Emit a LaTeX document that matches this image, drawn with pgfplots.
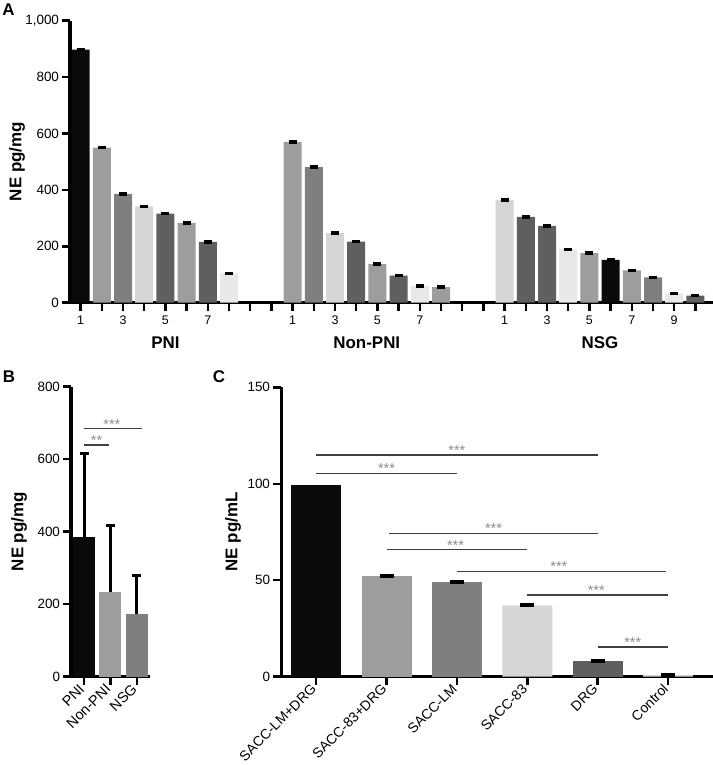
\documentclass[border=0pt]{standalone}
\usepackage{fontspec}
\setmainfont{Liberation Sans}
\usepackage{pgfplots}
\pgfplotsset{compat=1.18}
\definecolor{cK}{HTML}{0A0A0A}
\definecolor{cA}{HTML}{9D9DA0}
\definecolor{cB}{HTML}{7F7F7F}
\definecolor{cC}{HTML}{D6D6D6}
\definecolor{cD}{HTML}{5F5F5F}
\definecolor{cE}{HTML}{E8E8E8}
\definecolor{sig}{HTML}{404040}
\definecolor{sigtxt}{HTML}{8C8C8C}
\pgfplotsset{
 panel/.style={
  scale only axis, clip=false,
  axis x line*=bottom, axis y line*=left,
  axis line style={-, line width=3bp, black},
  tick style={line width=2.5bp, black},
  major tick length=7.5bp, tick align=outside,
  /pgf/number format/assume math mode=true,
  /pgf/number format/1000 sep={,},
  tick label style={font=\fontsize{13.5}{16}\selectfont},
  ylabel style={font=\bfseries\fontsize{17}{19}\selectfont},
 },
 bars/.style={ybar, draw=none, fill=#1},
 capsA/.style={only marks, mark=-, mark size=4bp, mark options={line width=3.5bp, black}},
 capsC/.style={only marks, mark=-, mark size=7bp, mark options={line width=4bp, black}},
}
\tikzset{
 sigline/.style={draw=sig, line width=1.4bp},
 sigtext/.style={text=sigtxt, font=\fontsize{14.5}{15}\selectfont, anchor=base, yshift=-0.5bp},
 tickline/.style={line width=2.5bp, draw=black},
}
\begin{document}
\begin{tikzpicture}
\useasboundingbox (0,0) rectangle (713bp,765bp);
\node[font=\bfseries\fontsize{17}{19}\selectfont] at (8.5bp,755bp) {A};
\node[font=\bfseries\fontsize{17}{19}\selectfont] at (9bp,388bp) {B};
\node[font=\bfseries\fontsize{17}{19}\selectfont] at (219bp,388bp) {C};
% ---------------- Panel A
\begin{axis}[panel, at={(70bp,462.3bp)}, anchor=south west,
  width=643bp, height=282bp,
  xmin=-0.5, xmax=29.83, ymin=0, ymax=1000,
  xtick={0,...,29},
  xticklabels={1,,3,,5,,7,,,,1,,3,,5,,7,,,,1,,3,,5,,7,,9,},
  x tick label style={font=\fontsize{12.5}{15}\selectfont, yshift=-2bp},
  ytick={0,200,400,600,800,1000},
  ylabel={NE pg/mg},
  ylabel style={at={(axis description cs:-0.0824,0.5)}, anchor=center},
  bar width=18bp]
\addplot[bars=cK] coordinates {(0,897) (25,152)};
\addplot[bars=cA] coordinates {(1,550) (5,283) (10,570) (14,137) (17,55) (24,176) (26,115)};
\addplot[bars=cB] coordinates {(2,386) (11,481) (27,90)};
\addplot[bars=cC] coordinates {(3,342) (12,247) (20,365)};
\addplot[bars=cD] coordinates {(4,316) (6,216) (13,217) (15,96) (21,304) (22,272) (29,25)};
\addplot[bars=cE] coordinates {(7,104) (16,60) (23,189) (28,33)};
\addplot[capsA] coordinates {(0,897) (1,550) (2,386) (3,342) (4,316) (5,283) (6,216) (7,104)
 (10,570) (11,481) (12,247) (13,217) (14,137) (15,96) (16,60) (17,55)
 (20,365) (21,304) (22,272) (23,189) (24,176) (25,152) (26,115) (27,90) (28,33) (29,25)};
\draw[tickline] (axis cs:0,0) -- (axis cs:0,-28);
\draw[tickline] (axis cs:1,0) -- (axis cs:1,-28);
\draw[tickline] (axis cs:2,0) -- (axis cs:2,-28);
\draw[tickline] (axis cs:3,0) -- (axis cs:3,-28);
\draw[tickline] (axis cs:4,0) -- (axis cs:4,-28);
\draw[tickline] (axis cs:5,0) -- (axis cs:5,-28);
\draw[tickline] (axis cs:6,0) -- (axis cs:6,-28);
\draw[tickline] (axis cs:7,0) -- (axis cs:7,-28);
\draw[tickline] (axis cs:8,0) -- (axis cs:8,-28);
\draw[tickline] (axis cs:9,0) -- (axis cs:9,-28);
\draw[tickline] (axis cs:10,0) -- (axis cs:10,-28);
\draw[tickline] (axis cs:11,0) -- (axis cs:11,-28);
\draw[tickline] (axis cs:12,0) -- (axis cs:12,-28);
\draw[tickline] (axis cs:13,0) -- (axis cs:13,-28);
\draw[tickline] (axis cs:14,0) -- (axis cs:14,-28);
\draw[tickline] (axis cs:15,0) -- (axis cs:15,-28);
\draw[tickline] (axis cs:16,0) -- (axis cs:16,-28);
\draw[tickline] (axis cs:17,0) -- (axis cs:17,-28);
\draw[tickline] (axis cs:18,0) -- (axis cs:18,-28);
\draw[tickline] (axis cs:19,0) -- (axis cs:19,-28);
\draw[tickline] (axis cs:20,0) -- (axis cs:20,-28);
\draw[tickline] (axis cs:21,0) -- (axis cs:21,-28);
\draw[tickline] (axis cs:22,0) -- (axis cs:22,-28);
\draw[tickline] (axis cs:23,0) -- (axis cs:23,-28);
\draw[tickline] (axis cs:24,0) -- (axis cs:24,-28);
\draw[tickline] (axis cs:25,0) -- (axis cs:25,-28);
\draw[tickline] (axis cs:26,0) -- (axis cs:26,-28);
\draw[tickline] (axis cs:27,0) -- (axis cs:27,-28);
\draw[tickline] (axis cs:28,0) -- (axis cs:28,-28);
\draw[tickline] (axis cs:29,0) -- (axis cs:29,-28);
\draw[tickline] (axis cs:-0.5,0) -- (axis cs:-0.877,0);
\draw[tickline] (axis cs:-0.5,200) -- (axis cs:-0.877,200);
\draw[tickline] (axis cs:-0.5,400) -- (axis cs:-0.877,400);
\draw[tickline] (axis cs:-0.5,600) -- (axis cs:-0.877,600);
\draw[tickline] (axis cs:-0.5,800) -- (axis cs:-0.877,800);
\draw[tickline] (axis cs:-0.5,1000) -- (axis cs:-0.877,1000);
\node[font=\bfseries\fontsize{17}{19}\selectfont, yshift=-40bp] at (axis cs:4,0) {PNI};
\node[font=\bfseries\fontsize{17}{19}\selectfont, yshift=-40bp] at (axis cs:13.5,0) {Non-PNI};
\node[font=\bfseries\fontsize{17}{19}\selectfont, yshift=-40bp] at (axis cs:24.5,0) {NSG};
\end{axis}
% ---------------- Panel B
\begin{axis}[panel, at={(71bp,88.3bp)}, anchor=south west,
  width=79bp, height=290bp,
  xmin=-0.5, xmax=2.5, ymin=0, ymax=800,
  xtick={0,1,2}, xticklabels={PNI,Non-PNI,NSG},
  xticklabel style={rotate=45, anchor=east, font=\fontsize{14.5}{16}\selectfont},
  ytick={0,200,400,600,800},
  ylabel={NE pg/mg},
  ylabel style={at={(axis description cs:-0.658,0.5)}, anchor=center},
  bar width=22bp]
\addplot[bars=cK, error bars/.cd, y dir=plus, y explicit,
  error bar style={line width=3bp, black},
  error mark options={rotate=90, mark size=4.5bp, line width=3bp, black}]
  coordinates {(0,386) +- (0,230)};
\addplot[bars=cA, error bars/.cd, y dir=plus, y explicit,
  error bar style={line width=3bp, black},
  error mark options={rotate=90, mark size=4.5bp, line width=3bp, black}]
  coordinates {(1,233) +- (0,184)};
\addplot[bars=cB, error bars/.cd, y dir=plus, y explicit,
  error bar style={line width=3bp, black},
  error mark options={rotate=90, mark size=4.5bp, line width=3bp, black}]
  coordinates {(2,172) +- (0,106)};
\draw[tickline] (axis cs:0,0) -- (axis cs:0,-22);
\draw[tickline] (axis cs:1,0) -- (axis cs:1,-22);
\draw[tickline] (axis cs:2,0) -- (axis cs:2,-22);
\draw[tickline] (axis cs:-0.5,0) -- (axis cs:-0.804,0);
\draw[tickline] (axis cs:-0.5,200) -- (axis cs:-0.804,200);
\draw[tickline] (axis cs:-0.5,400) -- (axis cs:-0.804,400);
\draw[tickline] (axis cs:-0.5,600) -- (axis cs:-0.804,600);
\draw[tickline] (axis cs:-0.5,800) -- (axis cs:-0.804,800);
\draw[sigline] (axis cs:0,639) -- (axis cs:0.95,639);
\node[sigtext] at (axis cs:0.47,639) {**};
\draw[sigline] (axis cs:0,684) -- (axis cs:2.2,684);
\node[sigtext] at (axis cs:1.05,684) {***};
\end{axis}
% ---------------- Panel C
\begin{axis}[panel, at={(281bp,88.3bp)}, anchor=south west,
  width=432bp, height=289.4bp,
  xmin=-0.5, xmax=5.64, ymin=0, ymax=150,
  xtick={0,...,5},
  xticklabels={SACC-LM+DRG,SACC-83+DRG,SACC-LM,SACC-83,DRG,Control},
  xticklabel style={rotate=45, anchor=east, font=\fontsize{14}{16}\selectfont},
  ytick={0,50,100,150},
  ylabel={NE pg/mL},
  ylabel style={at={(axis description cs:-0.111,0.5)}, anchor=center},
  bar width=50bp]
\addplot[bars=cK] coordinates {(0,99.5)};
\addplot[bars=cA] coordinates {(1,52)};
\addplot[bars=cB] coordinates {(2,49)};
\addplot[bars=cC] coordinates {(3,37) (5,1)};
\addplot[bars=cD] coordinates {(4,8)};
\addplot[capsC] coordinates {(1,52) (2,49) (3,37) (4,8) (5,1)};
\draw[tickline] (axis cs:0,0) -- (axis cs:0,-4.15);
\draw[tickline] (axis cs:1,0) -- (axis cs:1,-4.15);
\draw[tickline] (axis cs:2,0) -- (axis cs:2,-4.15);
\draw[tickline] (axis cs:3,0) -- (axis cs:3,-4.15);
\draw[tickline] (axis cs:4,0) -- (axis cs:4,-4.15);
\draw[tickline] (axis cs:5,0) -- (axis cs:5,-4.15);
\draw[tickline] (axis cs:-0.5,0) -- (axis cs:-0.614,0);
\draw[tickline] (axis cs:-0.5,50) -- (axis cs:-0.614,50);
\draw[tickline] (axis cs:-0.5,100) -- (axis cs:-0.614,100);
\draw[tickline] (axis cs:-0.5,150) -- (axis cs:-0.614,150);
\draw[sigline] (axis cs:0,115) -- (axis cs:4,115);
\node[sigtext] at (axis cs:2,115) {***};
\draw[sigline] (axis cs:0,105.4) -- (axis cs:2,105.4);
\node[sigtext] at (axis cs:1,105.4) {***};
\draw[sigline] (axis cs:1.04,74.3) -- (axis cs:4,74.3);
\node[sigtext] at (axis cs:2.52,74.3) {***};
\draw[sigline] (axis cs:1,65.8) -- (axis cs:3,65.8);
\node[sigtext] at (axis cs:1.98,65.8) {***};
\draw[sigline] (axis cs:2,54.6) -- (axis cs:4.97,54.6);
\node[sigtext] at (axis cs:3.45,54.6) {***};
\draw[sigline] (axis cs:3,42.4) -- (axis cs:5,42.4);
\node[sigtext] at (axis cs:3.98,42.4) {***};
\draw[sigline] (axis cs:4,15.4) -- (axis cs:5,15.4);
\node[sigtext] at (axis cs:4.5,15.4) {***};
\end{axis}
\end{tikzpicture}
\end{document}
